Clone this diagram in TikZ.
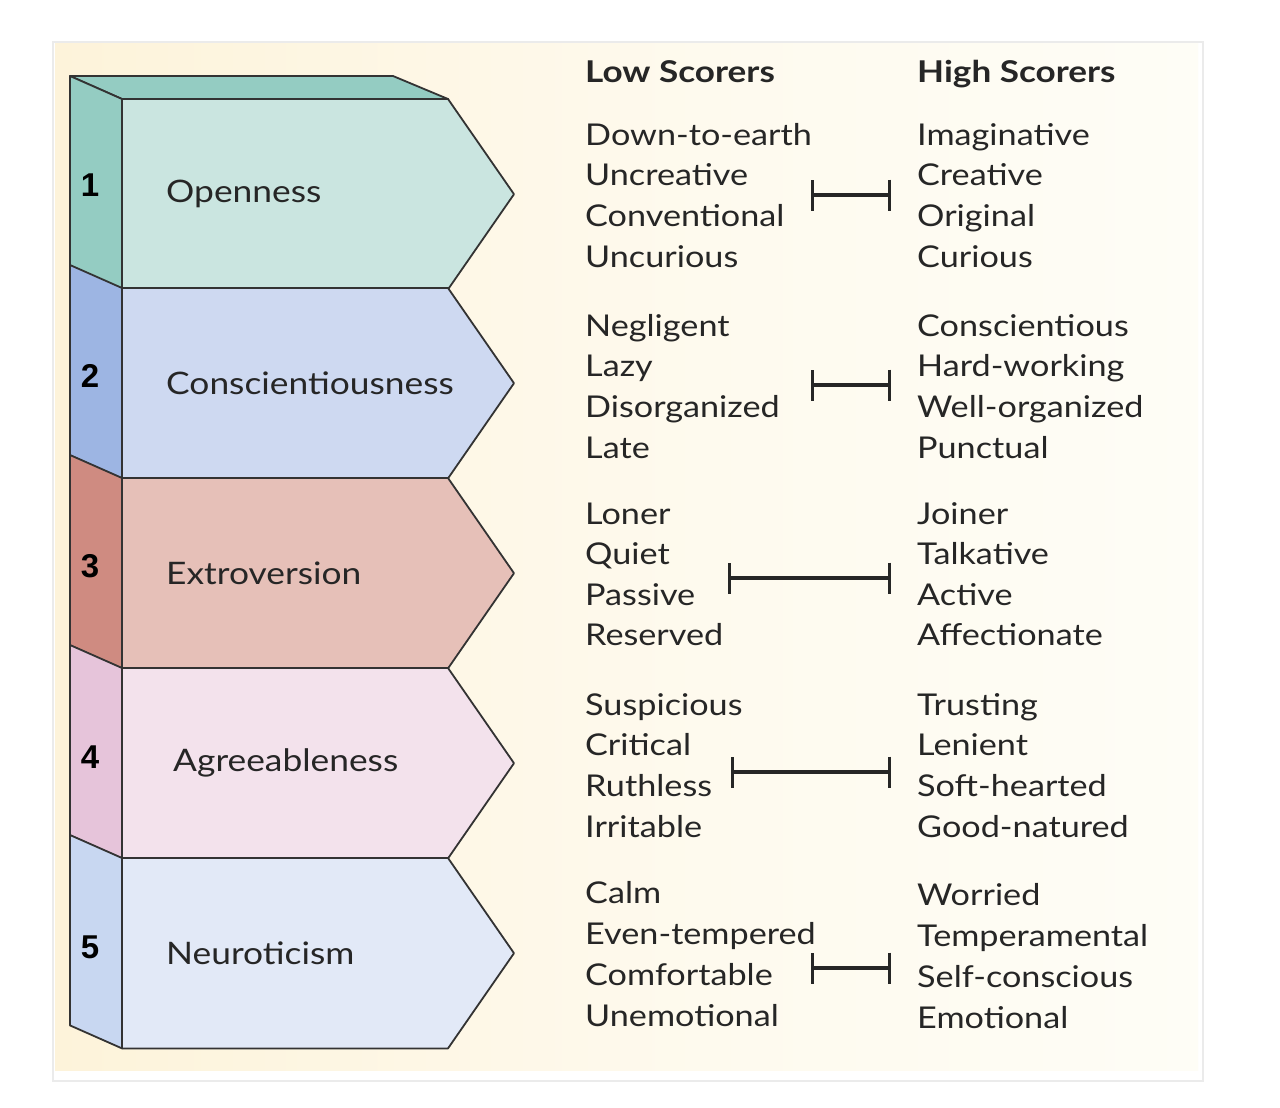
\documentclass[tikz,border=0pt]{standalone}
\usepackage{fontspec}
\setmainfont{Lato}[FakeStretch=1.14]
\newfontfamily\headfont{Lato}[FakeStretch=1.17]
\newfontfamily\numfont{Liberation Sans}
\usetikzlibrary{arrows.meta}
\definecolor{frontA}{HTML}{CAE5E0}\definecolor{sideA}{HTML}{94CCC2}
\definecolor{frontB}{HTML}{CED9F1}\definecolor{sideB}{HTML}{9DB5E3}
\definecolor{frontC}{HTML}{E6C0B8}\definecolor{sideC}{HTML}{CF8B81}
\definecolor{frontD}{HTML}{F3E2EC}\definecolor{sideD}{HTML}{E6C4DA}
\definecolor{frontE}{HTML}{E2E9F7}\definecolor{sideE}{HTML}{C8D7F1}
\definecolor{creamL}{HTML}{FDF3DA}\definecolor{creamM}{HTML}{FEFAEE}\definecolor{creamR}{HTML}{FEFDF6}
\definecolor{ink}{HTML}{262626}
\definecolor{edge}{HTML}{333333}
\tikzset{
  face/.style={draw=edge, line width=1.8pt, line join=round},
  word/.style={anchor=base west, inner sep=0pt, text=ink, font=\fontsize{30}{36}\selectfont},
  head/.style={anchor=base west, inner sep=0pt, text=ink, font=\headfont\fontsize{30}{36}\selectfont\bfseries},
  trait/.style={anchor=west, inner sep=0pt, text=ink, font=\fontsize{31}{36}\selectfont},
  num/.style={inner sep=0pt, text=black, font=\numfont\fontsize{33}{36}\selectfont\bfseries},
  link/.style={draw=ink, line width=3.2pt, {Bar[width=31pt,line width=3pt]}-{Bar[width=31pt,line width=3pt]}}
}
\begin{document}
\begin{tikzpicture}[x=1pt,y=-1pt]
\useasboundingbox (0,0) rectangle (1280,1108);
\fill[white] (0,0) rectangle (1280,1108);
% panel
\draw[draw=black!8, line width=1.5pt, fill=white] (53,42) rectangle (1203,1081);
\shade[left color=creamL, right color=creamM, shading angle=90] (55,44) rectangle (700,1070);
\shade[left color=creamM, right color=creamR, shading angle=90] (699,44) rectangle (1198,1070);
% top face
\draw[face, fill=sideA] (70,76) -- (393,76) -- (448,99) -- (122,99) -- cycle;
% blocks
\foreach \i/\t/\fc/\sc/\lab/\lx in {0/99/frontA/sideA/Openness/166,
                                 1/288/frontB/sideB/Conscientiousness/166,
                                 2/478/frontC/sideC/Extroversion/166,
                                 3/668/frontD/sideD/Agreeableness/173,
                                 4/858/frontE/sideE/Neuroticism/166}{
  \pgfmathsetmacro{\b}{\t+190.4}
  \pgfmathsetmacro{\m}{\t+95.2}
  \draw[face, fill=\sc] (70,\t-23) -- (122,\t) -- (122,\b) -- (70,\b-23) -- cycle;
  \draw[face, fill=\fc] (122,\t) -- (448,\t) -- (514,\m) -- (448,\b) -- (122,\b) -- cycle;
  \node[trait] (lab\i) at (\lx,\m) {\lab};
}
\node[num] (n1) at (90,185) {1};
\node[num] (n2) at (90,376) {2};
\node[num] (n3) at (90,566) {3};
\node[num] (n4) at (90,757) {4};
\node[num] (n5) at (90,947) {5};
% headers
\node[head] (lowh) at (585,82) {Low Scorers};
\node[head] (highh) at (917,82) {High Scorers};
% words
\foreach \w [count=\k] in {Down-to-earth,Uncreative,Conventional,Uncurious}{
  \node[word] (la\k) at (585,{145+40.7*(\k-1)}) {\w};}
\foreach \w [count=\k] in {Imaginative,Creative,Original,Curious}{
  \node[word] (ha\k) at (917,{145+40.7*(\k-1)}) {\w};}
\foreach \w [count=\k] in {Negligent,Lazy,Disorganized,Late}{
  \node[word] (lb\k) at (585,{336+40.7*(\k-1)}) {\w};}
\foreach \w [count=\k] in {Conscientious,Hard-working,Well-organized,Punctual}{
  \node[word] (hb\k) at (917,{336+40.7*(\k-1)}) {\w};}
\foreach \w [count=\k] in {Loner,Quiet,Passive,Reserved}{
  \node[word] (lc\k) at (585,{524+40.5*(\k-1)}) {\w};}
\foreach \w [count=\k] in {Joiner,Talkative,Active,Affectionate}{
  \node[word] (hc\k) at (917,{524+40.5*(\k-1)}) {\w};}
\foreach \w [count=\k] in {Suspicious,Critical,Ruthless,Irritable}{
  \node[word] (ld\k) at (585,{715+40.7*(\k-1)}) {\w};}
\foreach \w [count=\k] in {Trusting,Lenient,Soft-hearted,Good-natured}{
  \node[word] (hd\k) at (917,{715+40.7*(\k-1)}) {\w};}
\foreach \w [count=\k] in {Calm,Even-tempered,Comfortable,Unemotional}{
  \node[word] (le\k) at (585,{903+41*(\k-1)}) {\w};}
\foreach \w [count=\k] in {Worried,Temperamental,Self-conscious,Emotional}{
  \node[word] (he\k) at (917,{905+41.3*(\k-1)}) {\w};}
% connectors
\coordinate (ca1) at (811,195); \coordinate (cb1) at (891,195);
\coordinate (ca2) at (811,385); \coordinate (cb2) at (891,385);
\coordinate (ca3) at (728,578); \coordinate (cb3) at (891,578);
\coordinate (ca4) at (731,772); \coordinate (cb4) at (891,772);
\coordinate (ca5) at (811,968); \coordinate (cb5) at (891,968);
\foreach \k in {1,...,5}{\draw[link] (ca\k) -- (cb\k);}
\end{tikzpicture}
\end{document}
